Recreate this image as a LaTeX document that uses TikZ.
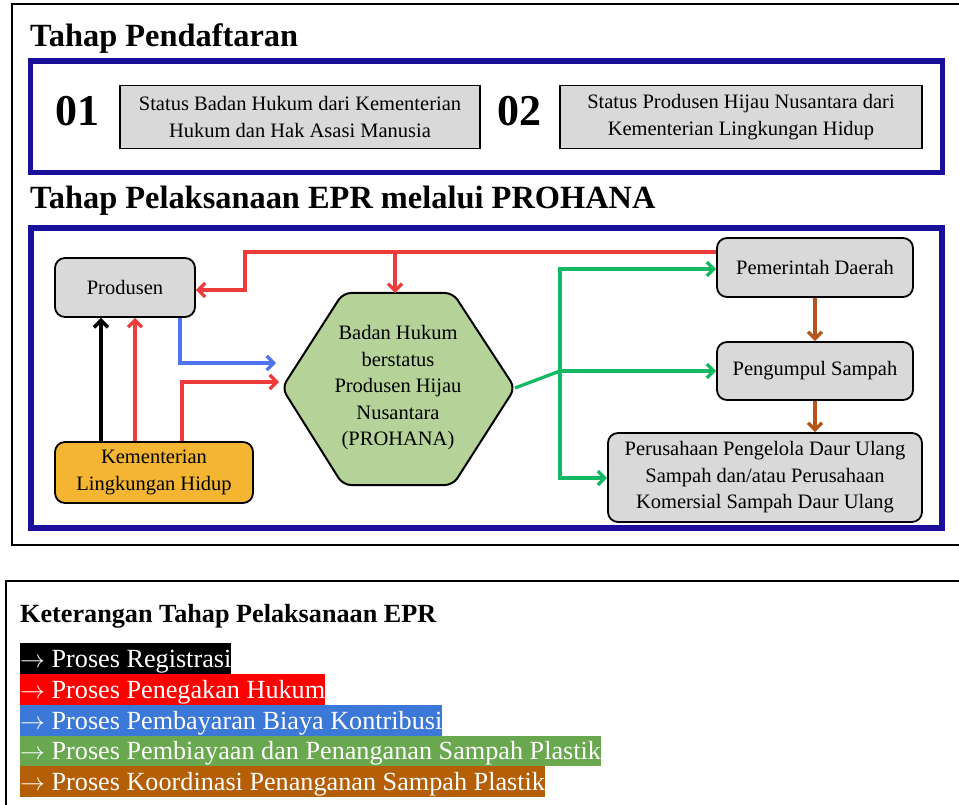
\documentclass[tikz,border=0pt]{standalone}
\usepackage{fontspec}
\setmainfont{Liberation Serif}
\usetikzlibrary{arrows.meta}
\definecolor{dblue}{RGB}{25,15,155}
\definecolor{boxgray}{RGB}{217,217,217}
\definecolor{korange}{RGB}{244,182,50}
\definecolor{hexgreen}{RGB}{181,211,152}
\definecolor{cred}{RGB}{238,60,60}
\definecolor{cblue}{RGB}{80,115,240}
\definecolor{cgreen}{RGB}{20,185,100}
\definecolor{cbrown}{RGB}{180,85,25}
\definecolor{lred}{RGB}{255,0,0}
\definecolor{lblue}{RGB}{60,120,216}
\definecolor{lgreen}{RGB}{106,168,79}
\definecolor{lbrown}{RGB}{180,95,6}
\newcommand\dtext{\fontsize{20.5pt}{26.5pt}\selectfont}
\newcommand\ttext{\bfseries\fontsize{32.4pt}{36pt}\selectfont}
\newcommand\ntext{\bfseries\fontsize{44pt}{48pt}\selectfont}
\newcommand\ltext{\fontsize{26.2pt}{30pt}\selectfont}
\newcommand\larr{$\rightarrow$}
\tikzset{
  outerframe/.style={draw=black, line width=2pt},
  blueframe/.style={draw=dblue, line width=5.5pt},
  regbox/.style={draw=black, line width=1.5pt, fill=boxgray, align=center, font=\dtext, inner sep=0pt},
  rbox/.style={regbox, rounded corners=10pt, line width=1.8pt},
  titletext/.style={anchor=base west, inner sep=0pt, font=\ttext},
  numtext/.style={inner sep=0pt, font=\ntext},
  conn/.style={line width=3.3pt, -{Straight Barb[length=7pt,width=14pt]}},
  plain/.style={line width=3.3pt},
  band/.style={anchor=north west, inner xsep=0pt, inner ysep=0pt, text height=24.3pt, text depth=6.5pt, font=\ltext, text=white}
}
\begin{document}
\begin{tikzpicture}[x=1pt,y=-1pt]
\useasboundingbox (0,0) rectangle (959,805);
\fill[white] (0,0) rectangle (959,805);

% outer frames
\draw[outerframe] (965,4) -- (12,4) -- (12,545) -- (965,545);
\draw[outerframe, line width=2.3pt] (965,581) -- (6,581) -- (6,812);

% ---- Tahap Pendaftaran
\node[titletext] (t1) at (30,47) {Tahap Pendaftaran};
\draw[blueframe] (30.5,61) rectangle (942.5,172.5);
\node[numtext] (n1) at (77,111) {01};
\node[regbox, minimum width=360pt, minimum height=63pt] (b1) at (300,117) {Status Badan Hukum dari Kementerian\\Hukum dan Hak Asasi Manusia};
\node[numtext] (n2) at (519,111) {02};
\node[regbox, minimum width=362pt, minimum height=63pt] (b2) at (741,117) {Status Produsen Hijau Nusantara dari\\Kementerian Lingkungan Hidup};

% ---- Tahap Pelaksanaan
\node[titletext] (t2) at (30,209) {Tahap Pelaksanaan EPR melalui PROHANA};
\draw[blueframe, line width=6pt] (31,228.5) rectangle (942,528);

\node[rbox, minimum width=140pt, minimum height=59pt] (prod) at (125,287.5) {Produsen};
\node[rbox, fill=korange, minimum width=198pt, minimum height=61pt] (kem) at (154,472.5) {Kementerian\\Lingkungan Hidup};
\node[rbox, minimum width=196pt, minimum height=59pt] (pem) at (815,267.5) {Pemerintah Daerah};
\node[rbox, minimum width=196pt, minimum height=58pt] (pen) at (815,371) {Pengumpul Sampah};
\node[rbox, minimum width=314pt, minimum height=89pt] (per) at (765,477.5) {Perusahaan Pengelola Daur Ulang\\Sampah dan/atau Perusahaan\\Komersial Sampah Daur Ulang};

\draw[draw=black, line width=2pt, fill=hexgreen, rounded corners=8pt]
  (282,388) -- (343,293) -- (453,293) -- (515,388) -- (453,485) -- (343,485) -- cycle;
\node[align=center, font=\dtext, inner sep=0pt] (hex) at (398,388) {Badan Hukum\\berstatus\\Produsen Hijau\\Nusantara\\(PROHANA)};

% coordinates
\coordinate (hexT) at (395,293);
\coordinate (hexR) at (515,388);
\coordinate (rin) at (279,382);
\coordinate (bin) at (276,363);
\coordinate (redy) at (0,252);
\coordinate (rturn) at (245,290);
\coordinate (gsplit) at (560,371);
\coordinate (gtop) at (0,269);
\coordinate (gbot) at (0,478);

% black: registrasi
\draw[conn, black, line width=3.6pt] ([xshift=-53pt]kem.north) -- ([xshift=-24pt]prod.south);
% red: penegakan hukum
\draw[conn, cred] ([xshift=-19pt]kem.north) -- ([xshift=10pt]prod.south);
\draw[conn, cred] ([xshift=28pt]kem.north) |- (rin);
\draw[conn, cred] (pem.west |- redy) -| (rturn) -- (prod.east |- rturn);
\draw[conn, cred] (hexT |- redy) -- (hexT);
% blue: pembayaran
\draw[conn, cblue] ([xshift=55pt]prod.south) |- (bin);
% green
\draw[plain, cgreen] (hexR) -- (gsplit);
\draw[conn, cgreen] (gsplit) |- (pem.west |- gtop);
\draw[conn, cgreen] (gsplit) -- (pen.west);
\draw[conn, cgreen] (gsplit) |- (per.west |- gbot);
% brown
\draw[conn, cbrown] (pem.south) -- (pen.north);
\draw[conn, cbrown] (pen.south) -- (pen.south |- per.north);

% ---- legend
\node[anchor=base west, inner sep=0pt, font=\bfseries\ltext] (lt) at (20,622) {Keterangan Tahap Pelaksanaan EPR};
\node[band, fill=black] (l1) at (20,643) {\larr{} Proses Registrasi};
\node[band, fill=lred] (l2) at (20,673.8) {\larr{} Proses Penegakan Hukum};
\node[band, fill=lblue] (l3) at (20,704.6) {\larr{} Proses Pembayaran Biaya Kontribusi};
\node[band, fill=lgreen] (l4) at (20,735.4) {\larr{} Proses Pembiayaan dan Penanganan Sampah Plastik};
\node[band, fill=lbrown] (l5) at (20,766.2) {\larr{} Proses Koordinasi Penanganan Sampah Plastik};
\end{tikzpicture}
\end{document}
